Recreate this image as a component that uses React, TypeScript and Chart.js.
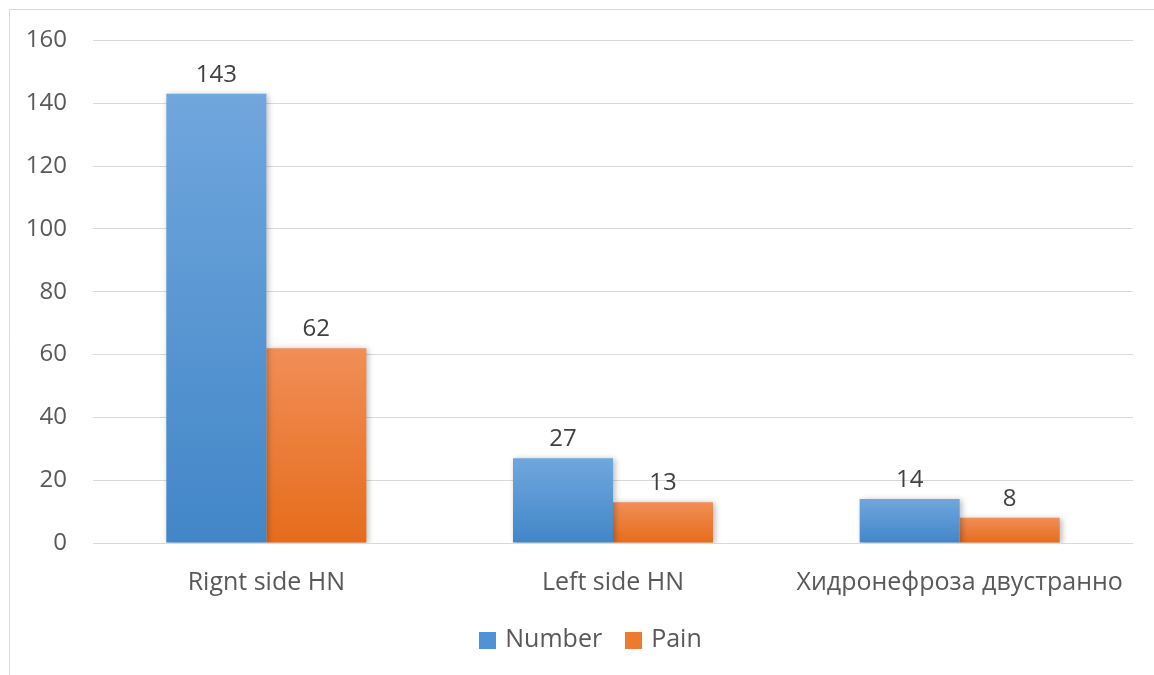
import React, { useEffect, useRef } from "react";
import { Chart, registerables } from "chart.js";

Chart.register(...registerables);

const categories = ["Rignt side HN", "Left side HN", "Хидронефроза двустранно"];
const numberValues = [143, 27, 14];
const painValues = [62, 13, 8];
const yTicks = [0, 20, 40, 60, 80, 100, 120, 140, 160];
const seriesNames = ["Number", "Pain"];
const legendColors = ["#4f93d6", "#ee7a2f"];

const FONT = "'Open Sans', 'DejaVu Sans', sans-serif";
const FS = 25;

function gradientFor(top: string, bottom: string) {
  return (ctx: any) => {
    const chart = ctx.chart;
    if (!chart.chartArea || ctx.raw == null) return bottom;
    const ys = chart.scales.y;
    const yTop = ys.getPixelForValue(ctx.raw);
    const yBot = ys.getPixelForValue(0);
    if (!isFinite(yTop) || !isFinite(yBot) || yTop === yBot) return bottom;
    const g = chart.ctx.createLinearGradient(0, yTop, 0, yBot);
    g.addColorStop(0, top);
    g.addColorStop(1, bottom);
    return g;
  };
}

const borderPlugin = {
  id: "outerBorder",
  beforeDraw(chart: any) {
    const c = chart.ctx;
    c.save();
    c.fillStyle = "#ffffff";
    c.fillRect(0, 0, chart.width, chart.height);
    c.strokeStyle = "#d9d9d9";
    c.lineWidth = 1;
    c.beginPath();
    c.moveTo(9.5, chart.height);
    c.lineTo(9.5, 9.5);
    c.lineTo(chart.width, 9.5);
    c.stroke();
    c.restore();
  },
};

const shadowPlugin = {
  id: "barShadow",
  beforeDatasetDraw(chart: any) {
    const c = chart.ctx;
    c.save();
    c.shadowColor = "rgba(0,0,0,0.28)";
    c.shadowBlur = 6;
    c.shadowOffsetX = 2;
    c.shadowOffsetY = 1;
  },
  afterDatasetDraw(chart: any) {
    chart.ctx.restore();
  },
};

const labelPlugin = {
  id: "valueLabels",
  afterDatasetsDraw(chart: any) {
    const c = chart.ctx;
    c.save();
    c.font = `${FS - 1}px ${FONT}`;
    c.fillStyle = "#404040";
    c.textAlign = "center";
    c.textBaseline = "bottom";
    chart.data.datasets.forEach((ds: any, i: number) => {
      const meta = chart.getDatasetMeta(i);
      meta.data.forEach((bar: any, j: number) => {
        c.fillText(String(ds.data[j]), bar.x, bar.y - 7);
      });
    });
    c.restore();
  },
};

const legendPlugin = {
  id: "customLegend",
  afterDraw(chart: any) {
    const c = chart.ctx;
    c.save();
    c.font = `${FS}px ${FONT}`;
    c.textBaseline = "middle";
    c.textAlign = "left";
    const box = 17;
    const gapText = 9;
    const gapItem = 23;
    const widths = seriesNames.map((s) => c.measureText(s).width);
    let total = 0;
    widths.forEach((w, i) => {
      total += box + gapText + w + (i < widths.length - 1 ? gapItem : 0);
    });
    const cy = chart.chartArea.bottom + 97;
    let x = 590.5 - total / 2;
    seriesNames.forEach((s, i) => {
      c.fillStyle = legendColors[i];
      c.fillRect(Math.round(x), Math.round(cy - box / 2), box, box);
      c.fillStyle = "#595959";
      c.fillText(s, x + box + gapText, cy);
      x += box + gapText + widths[i] + gapItem;
    });
    c.restore();
  },
};

export default function App() {
  const ref = useRef<HTMLCanvasElement>(null);
  useEffect(() => {
    if (!ref.current) return;
    const chart = new Chart(ref.current, {
      type: "bar",
      data: {
        labels: categories,
        datasets: [
          {
            label: seriesNames[0],
            data: numberValues,
            backgroundColor: gradientFor("#70a7dd", "#4286c8"),
            borderWidth: 0,
          },
          {
            label: seriesNames[1],
            data: painValues,
            backgroundColor: gradientFor("#f18e57", "#e66c1b"),
            borderWidth: 0,
          },
        ],
      },
      options: {
        animation: false,
        responsive: false,
        maintainAspectRatio: false,
        layout: { padding: { top: 39, right: 21, bottom: 67, left: 0 } },
        datasets: {
          bar: { categoryPercentage: 0.577, barPercentage: 1.0 },
        },
        scales: {
          x: {
            grid: { display: false },
            border: { display: false },
            ticks: {
              color: "#595959",
              font: { family: FONT, size: FS },
              padding: 17,
              maxRotation: 0,
              autoSkip: false,
            },
            afterFit(scale: any) {
              scale.height = 65;
            },
          },
          y: {
            min: 0,
            max: 160,
            afterBuildTicks(scale: any) {
              scale.ticks = yTicks.map((v) => ({ value: v }));
            },
            grid: { color: "#d9d9d9", lineWidth: 1, drawTicks: false },
            border: { display: false },
            ticks: {
              color: "#595959",
              font: { family: FONT, size: FS - 1 },
              padding: 26,
            },
            afterFit(scale: any) {
              scale.width = 93;
            },
          },
        },
        plugins: {
          legend: { display: false },
          tooltip: { enabled: false },
        },
      },
      plugins: [borderPlugin, shadowPlugin, labelPlugin, legendPlugin],
    });
    return () => chart.destroy();
  }, []);
  return (
    <div style={{ position: "absolute", left: 0, top: 0, width: 1154, height: 675 }}>
      <canvas ref={ref} width={1154} height={675} style={{ width: 1154, height: 675, display: "block" }} />
    </div>
  );
}
